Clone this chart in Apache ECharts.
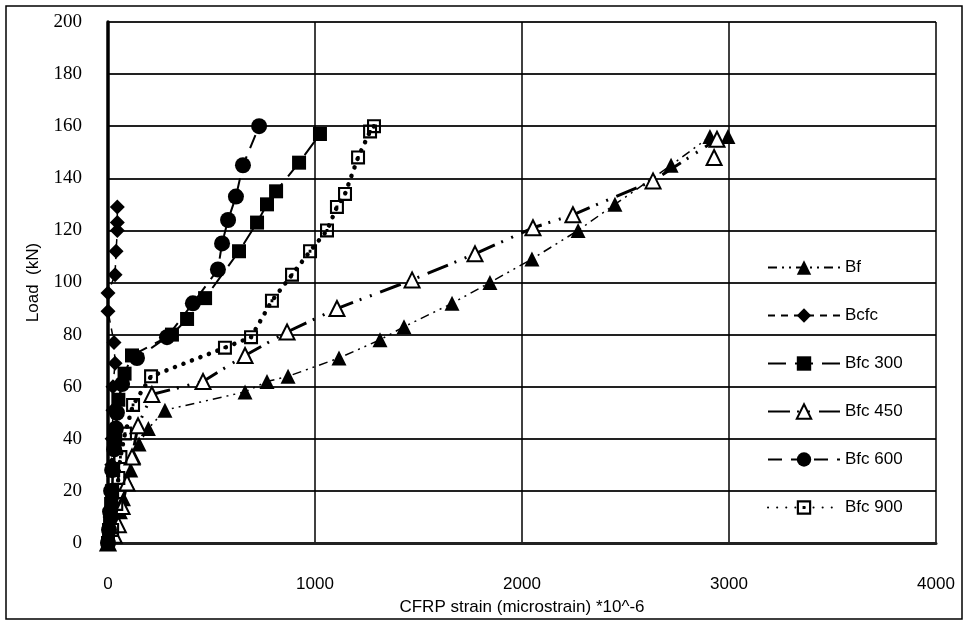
<!DOCTYPE html>
<html>
<head>
    <title>Load vs CFRP strain</title>
    <meta charset="utf-8">
    <style>
        body {
            margin: 0;
            padding: 0;
            background: #fff;
        }
        #chart {
            width: 968px;
            height: 624px;
        }
    </style>
</head>
<body>
    <script src="https://cdn.jsdelivr.net/npm/echarts@6/dist/echarts.min.js"></script>
    <div id="chart"></div>
    <script>
        // [strain, load] pairs
        const bf = [[0,0],[20,3],[40,7],[60,12],[75,17],[95,23],[110,28],[125,33],[150,38],[195,44],[275,51],[662,58],[768,62],[870,64],[1116,71],[1314,78],[1430,83],[1662,92],[1845,100],[2048,109],[2271,120],[2449,130],[2720,145],[2908,156],[2995,156]];
        const bcfc = [[0,0],[5,5],[10,10],[15,20],[18,30],[20,40],[24,51],[24,60],[34,69],[29,77],[0,89],[0,96],[34,103],[39,112],[45,120],[45,123],[45,129]];
        const bfc300 = [[0,0],[5,5],[10,10],[15,15],[20,20],[25,28],[35,40],[50,55],[80,65],[116,72],[309,80],[382,86],[469,94],[633,112],[720,123],[768,130],[812,135],[923,146],[1024,157]];
        const bfc450 = [[0,0],[30,3],[50,7],[68,14],[92,23],[116,33],[145,45],[212,57],[459,62],[662,72],[865,81],[1106,90],[1469,101],[1773,111],[2053,121],[2246,126],[2633,139],[2942,155],[2928,148]];
        const bfc600 = [[0,0],[5,5],[10,12],[15,20],[20,28],[30,36],[38,44],[43,50],[68,61],[140,71],[285,79],[410,92],[531,105],[551,115],[580,124],[618,133],[652,145],[730,160]];
        const bfc900 = [[0,0],[20,5],[40,15],[50,25],[60,33],[82,42],[121,53],[208,64],[565,75],[691,79],[792,93],[889,103],[976,112],[1058,120],[1106,129],[1145,134],[1208,148],[1266,158],[1285,160]];

        const seriesNames = ['Bf', 'Bcfc', 'Bfc 300', 'Bfc 450', 'Bfc 600', 'Bfc 900'];
        const xTicks = [0, 1000, 2000, 3000, 4000];
        const yTicks = [0, 20, 40, 60, 80, 100, 120, 140, 160, 180, 200];

        // hollow square with a dot in the middle
        const dotSquare = 'path://M0 0L20 0L20 20L0 20Z M3 3L3 17L17 17L17 3Z M8 8L12 8L12 12L8 12Z';

        let chart = echarts.init(document.getElementById('chart'));

        function line(name, data, symbol, size, lineStyle, itemStyle) {
            return {
                name: name,
                type: 'line',
                data: data,
                symbol: symbol,
                symbolSize: size,
                lineStyle: Object.assign({ color: '#000' }, lineStyle),
                itemStyle: itemStyle || { color: '#000' },
                emphasis: { disabled: true },
                animation: false
            };
        }

        chart.setOption({
            animation: false,
            graphic: [{
                type: 'rect',
                shape: { x: 6, y: 6, width: 956, height: 613 },
                style: { fill: 'none', stroke: '#000', lineWidth: 1.5 },
                silent: true
            }],
            grid: { left: 108, top: 22, right: 32, bottom: 81 },
            legend: {
                orient: 'vertical',
                left: 762,
                top: 254,
                itemWidth: 72,
                itemHeight: 18,
                itemGap: 31,
                data: seriesNames,
                textStyle: { fontFamily: 'Liberation Sans, sans-serif', fontSize: 17, color: '#000' }
            },
            xAxis: {
                type: 'value',
                min: xTicks[0],
                max: xTicks[xTicks.length - 1],
                interval: 1000,
                name: 'CFRP strain (microstrain) *10^-6',
                nameLocation: 'middle',
                nameGap: 56,
                nameTextStyle: { fontFamily: 'Liberation Sans, sans-serif', fontSize: 17, color: '#000' },
                axisLine: { onZero: false, lineStyle: { color: '#222', width: 3 } },
                axisTick: { show: false },
                axisLabel: {
                    margin: 33,
                    fontFamily: 'Liberation Sans, sans-serif',
                    fontSize: 17,
                    color: '#000',
                    formatter: v => String(v)
                },
                splitLine: { show: true, lineStyle: { color: '#000', width: 1.5 } }
            },
            yAxis: {
                type: 'value',
                min: yTicks[0],
                max: yTicks[yTicks.length - 1],
                interval: 20,
                name: 'Load  (kN)',
                nameLocation: 'middle',
                nameGap: 66,
                nameTextStyle: { fontFamily: 'Liberation Sans, sans-serif', fontSize: 17, color: '#000' },
                axisLine: { show: true, lineStyle: { color: '#000', width: 3.5 } },
                axisTick: { show: false },
                axisLabel: { margin: 26, fontFamily: 'Liberation Serif, serif', fontSize: 19, color: '#000' },
                splitLine: { show: true, lineStyle: { color: '#222', width: 2 } }
            },
            series: [
                line('Bf', bf, 'triangle', 15, { width: 1.5, type: [9, 5, 2, 5, 2, 5] }),
                line('Bcfc', bcfc, 'diamond', 15, { width: 1.5, type: [7, 6] }),
                line('Bfc 300', bfc300, 'rect', 14, { width: 2, type: [18, 9] }),
                line('Bfc 450', bfc450, 'triangle', 15, { width: 3, type: [22, 7, 2, 9, 2, 9] },
                    { color: '#fff', borderColor: '#000', borderWidth: 2 }),
                line('Bfc 600', bfc600, 'circle', 16, { width: 2, type: [14, 9] }),
                line('Bfc 900', bfc900, dotSquare, 14, { width: 4.5, type: [0.1, 9], cap: 'round' })
            ]
        });
    </script>
</body>
</html>
